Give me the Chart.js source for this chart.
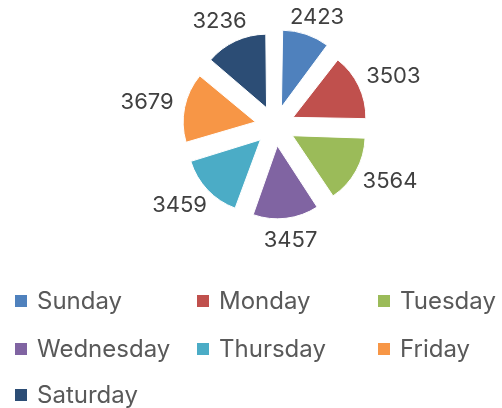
<!DOCTYPE html>
<html>
<head>
<meta charset="utf-8">
<script src="https://cdn.jsdelivr.net/npm/chart.js@4"></script>
<style>
  html, body { margin: 0; padding: 0; background: #fff; }
  #wrap { width: 502px; height: 408px; position: relative; }
</style>
</head>
<body>
<div id="wrap"><canvas id="dayChart"></canvas></div>
<script>
const days = ['Sunday', 'Monday', 'Tuesday', 'Wednesday', 'Thursday', 'Friday', 'Saturday'];
const counts = [2423, 3503, 3564, 3457, 3459, 3679, 3236];
const dayColors = ['#4F81BD', '#C0504D', '#9BBB59', '#8064A2', '#4BACC6', '#F79646', '#2C4D75'];

const fontFamily = 'Inter, "DejaVu Sans", sans-serif';

// value labels outside each exploded slice
const valueLabels = {
    id: 'valueLabels',
    afterDatasetsDraw(chart) {
        const ctx = chart.ctx;
        const meta = chart.getDatasetMeta(0);
        ctx.save();
        ctx.font = '22px ' + fontFamily;
        ctx.fillStyle = '#404040';
        ctx.textAlign = 'center';
        ctx.textBaseline = 'middle';
        meta.data.forEach((arc, i) => {
            const p = arc.getProps(['x', 'y', 'startAngle', 'endAngle', 'outerRadius'], true);
            const mid = (p.startAngle + p.endAngle) / 2;
            const text = String(counts[i]);
            const w = ctx.measureText(text).width;
            // chart.js moves an arc out by offset / 4
            const r = p.outerRadius + arc.options.offset / 4 + 15;
            const cx = p.x + Math.cos(mid) * (r + w / 2);
            const cy = p.y + Math.sin(mid) * (r + 11);
            ctx.fillText(text, cx, cy);
        });
        ctx.restore();
    }
};

// legend in a 3 column grid under the pie
const gridLegend = {
    id: 'gridLegend',
    afterDraw(chart) {
        const ctx = chart.ctx;
        const colX = [15, 197, 378];
        const rowY = [301, 349, 395];
        ctx.save();
        ctx.font = '24px ' + fontFamily;
        ctx.textBaseline = 'middle';
        days.forEach((d, i) => {
            const x = colX[i % 3];
            const y = rowY[Math.floor(i / 3)];
            ctx.fillStyle = dayColors[i];
            ctx.fillRect(x, y - 6, 12, 12);
            ctx.fillStyle = '#595959';
            ctx.fillText(d, x + 22, y + 1);
        });
        ctx.restore();
    }
};

const ctx = document.getElementById('dayChart').getContext('2d');
new Chart(ctx, {
    type: 'pie',
    data: {
        labels: days,
        datasets: [{
            data: counts,
            backgroundColor: dayColors,
            borderColor: '#ffffff',
            borderWidth: 1,
            offset: 80,
            radius: 69
        }]
    },
    options: {
        responsive: true,
        maintainAspectRatio: false,
        animation: false,
        layout: {
            padding: { left: 48, right: 0, top: 0, bottom: 156 }
        },
        plugins: {
            legend: { display: false },
            tooltip: { enabled: false }
        }
    },
    plugins: [valueLabels, gridLegend]
});
</script>
</body>
</html>
